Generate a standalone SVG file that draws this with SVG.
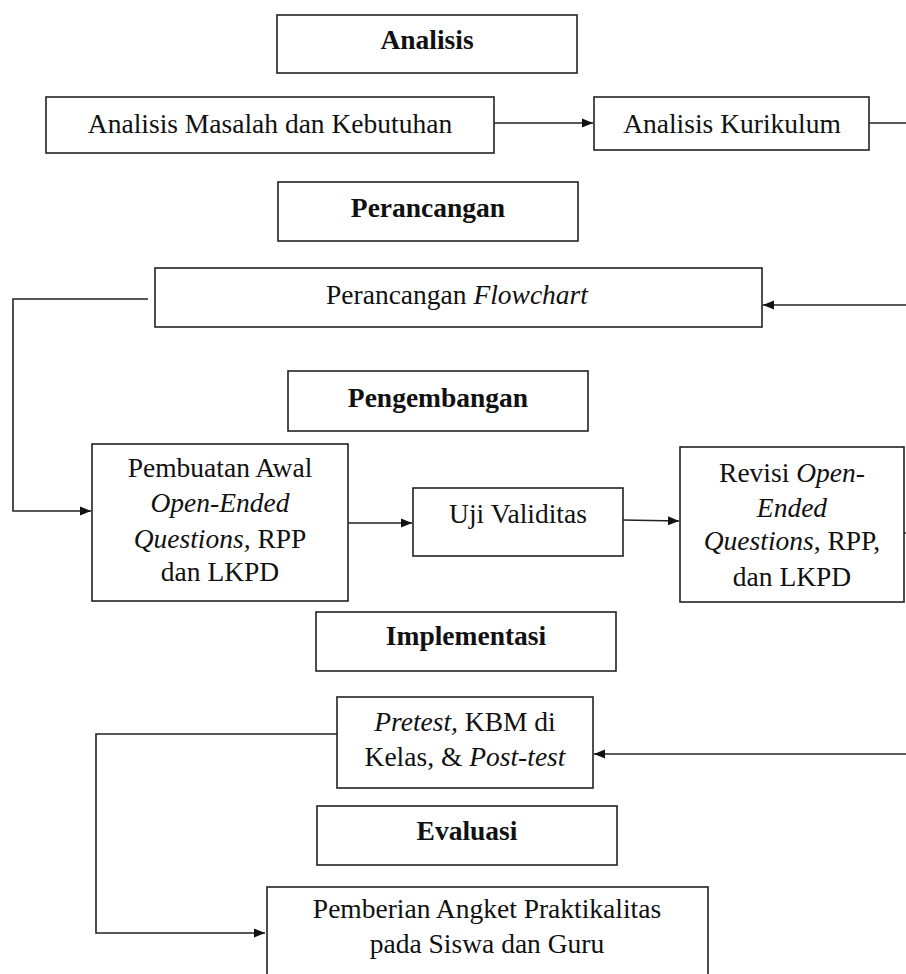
<svg xmlns="http://www.w3.org/2000/svg" width="906" height="974" viewBox="0 0 906 974">
<style>
.box{fill:#fff;stroke:#222;stroke-width:1.6}
.t{font-family:"Liberation Serif","Times New Roman",serif;font-size:27.5px;fill:#111;text-anchor:middle}
.b{font-weight:bold}
.i{font-style:italic}
.c{fill:none;stroke:#222;stroke-width:1.6}
</style>
<defs>
<marker id="ah" markerUnits="userSpaceOnUse" markerWidth="12" markerHeight="12" refX="11" refY="6" orient="auto">
<path d="M0,1.5 L11,6 L0,10.5 Z" fill="#111"/>
</marker>
</defs>
<rect width="906" height="974" fill="#fff"/>
<g id="connectors">
<line class="c" x1="494" y1="123" x2="593" y2="123" marker-end="url(#ah)"/>
<line class="c" x1="869" y1="123" x2="906" y2="123"/>
<line class="c" x1="906" y1="305" x2="763" y2="305" marker-end="url(#ah)"/>
<polyline class="c" points="148,299 13,299 13,511 91,511" marker-end="url(#ah)"/>
<line class="c" x1="348" y1="523" x2="412" y2="523" marker-end="url(#ah)"/>
<line class="c" x1="623" y1="520" x2="679" y2="521" marker-end="url(#ah)"/>
<line class="c" x1="904" y1="533" x2="906" y2="533"/>
<line class="c" x1="906" y1="754" x2="594" y2="754" marker-end="url(#ah)"/>
<polyline class="c" points="337,734 96,734 96,933 265,933" marker-end="url(#ah)"/>
</g>
<g id="analisis">
<rect class="box" x="277" y="15" width="300" height="58"/>
<text class="t b" x="427" y="49">Analisis</text>
</g>
<g id="analisis-masalah">
<rect class="box" x="46" y="97" width="448" height="56"/>
<text class="t" x="270" y="133">Analisis Masalah dan Kebutuhan</text>
</g>
<g id="analisis-kurikulum">
<rect class="box" x="594" y="97" width="275" height="53"/>
<text class="t" x="732" y="133">Analisis Kurikulum</text>
</g>
<g id="perancangan">
<rect class="box" x="278" y="182" width="300" height="59"/>
<text class="t b" x="428" y="217">Perancangan</text>
</g>
<g id="perancangan-flowchart">
<rect class="box" x="155" y="268" width="607" height="59"/>
<text class="t" x="457" y="304">Perancangan <tspan class="i">Flowchart</tspan></text>
</g>
<g id="pengembangan">
<rect class="box" x="288" y="371" width="300" height="60"/>
<text class="t b" x="438" y="407">Pengembangan</text>
</g>
<g id="pembuatan-awal">
<rect class="box" x="92" y="444" width="256" height="157"/>
<text class="t" x="220" y="477">Pembuatan Awal</text>
<text class="t i" x="220" y="512">Open-Ended</text>
<text class="t" x="220" y="548"><tspan class="i">Questions,</tspan> RPP</text>
<text class="t" x="220" y="581">dan LKPD</text>
</g>
<g id="uji-validitas">
<rect class="box" x="413" y="488" width="210" height="68"/>
<text class="t" x="518" y="523">Uji Validitas</text>
</g>
<g id="revisi">
<rect class="box" x="680" y="447" width="224" height="155"/>
<text class="t" x="792" y="482">Revisi <tspan class="i">Open-</tspan></text>
<text class="t i" x="792" y="517">Ended</text>
<text class="t" x="792" y="550"><tspan class="i">Questions</tspan>, RPP,</text>
<text class="t" x="792" y="586">dan LKPD</text>
</g>
<g id="implementasi">
<rect class="box" x="316" y="612" width="300" height="59"/>
<text class="t b" x="466" y="645">Implementasi</text>
</g>
<g id="pretest">
<rect class="box" x="337" y="697" width="256" height="91"/>
<text class="t" x="465" y="731"><tspan class="i">Pretest,</tspan> KBM di</text>
<text class="t" x="465" y="766">Kelas, &amp; <tspan class="i">Post-test</tspan></text>
</g>
<g id="evaluasi">
<rect class="box" x="317" y="806" width="300" height="59"/>
<text class="t b" x="467" y="840">Evaluasi</text>
</g>
<g id="pemberian-angket">
<rect class="box" x="267" y="887" width="441" height="100"/>
<text class="t" x="487" y="918">Pemberian Angket Praktikalitas</text>
<text class="t" x="487" y="953">pada Siswa dan Guru</text>
</g>
</svg>
